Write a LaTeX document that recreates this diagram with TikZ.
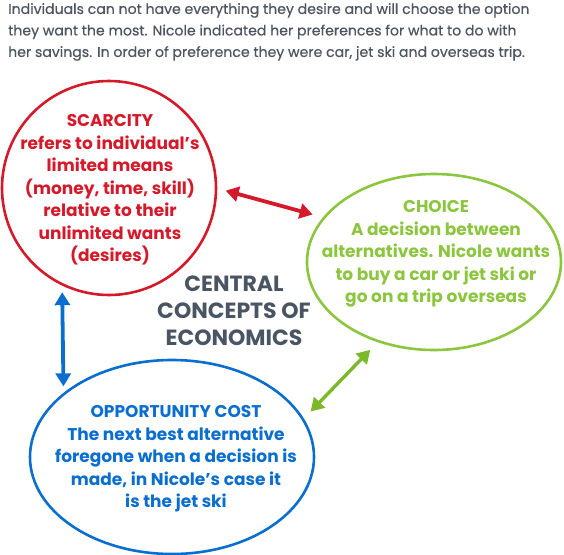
\documentclass[tikz,border=0pt]{standalone}
\usepackage{fontspec}
\setmainfont{Poppins}
\newfontfamily\hdrfont{Poppins}[FakeBold=0.5]
\usetikzlibrary{arrows.meta,shapes.geometric}
\definecolor{hdrgray}{HTML}{4D5560}
\definecolor{ctrgray}{HTML}{4A5563}
\definecolor{scred}{HTML}{D41A2A}
\definecolor{chgreen}{HTML}{8CC63F}
\definecolor{argreen}{HTML}{7DB82A}
\definecolor{opblue}{HTML}{0A6ECF}
\tikzset{
  bubble/.style={draw, line width=2.6pt, inner sep=0pt, outer sep=0pt},
  btext/.style={align=center, font=\fontsize{17}{22.5}\selectfont\bfseries, inner sep=0pt},
  twoway/.style={{Triangle[length=13pt,width=15pt]}-{Triangle[length=13pt,width=15pt]}, line width=3.8pt},
}
\begin{document}
\begin{tikzpicture}[x=1pt,y=-1pt]
\useasboundingbox (0,0) rectangle (564,554);
% header
\node[anchor=north west, align=left, inner sep=0pt, text=hdrgray,
      font=\hdrfont\fontsize{14.1}{21.5}\selectfont] (hdr) at (8,3)
  {Individuals can not have everything they desire and will choose the option\\
   they want the most. Nicole indicated her preferences for what to do with\\
   her savings. In order of preference they were car, jet ski and overseas trip.};
% shapes
\node[bubble, circle, draw=scred, minimum size=214pt] (scar) at (109,188) {};
\node[bubble, ellipse, draw=chgreen, minimum width=254pt, minimum height=176pt] (choice) at (434,262) {};
\node[bubble, ellipse, draw=opblue, minimum width=284pt, minimum height=194pt] (opp) at (172,457) {};
% texts
\node[btext, text=scred] (scartxt) at (110,190)
  {SCARCITY\\refers to individual’s\\limited means\\(money, time, skill)\\relative to their\\unlimited wants\\(desires)};
\node[btext, text=chgreen] (choicetxt) at (436,254)
  {CHOICE\\A decision between\\alternatives. Nicole wants\\to buy a car or jet ski or\\go on a trip overseas};
\node[btext, text=opblue] (opptxt) at (176,459)
  {OPPORTUNITY COST\\The next best alternative\\foregone when a decision is\\made, in Nicole’s case it\\is the jet ski};
\node[align=center, inner sep=0pt, text=ctrgray, font=\fontsize{22}{27}\selectfont\bfseries] (central) at (234,311)
  {CENTRAL\\CONCEPTS OF\\ECONOMICS};
% connectors
\draw[twoway, scred, shorten <=10pt, shorten >=12pt] (scar.0) -- (choice.158);
\draw[twoway, opblue, shorten <=8pt, shorten >=8pt] (scar.244.5) -- (opp.150.3);
\draw[twoway, argreen, line width=3.4pt, shorten <=12pt, shorten >=11pt] (choice.235.4) -- (opp.16.6);
\end{tikzpicture}
\end{document}
